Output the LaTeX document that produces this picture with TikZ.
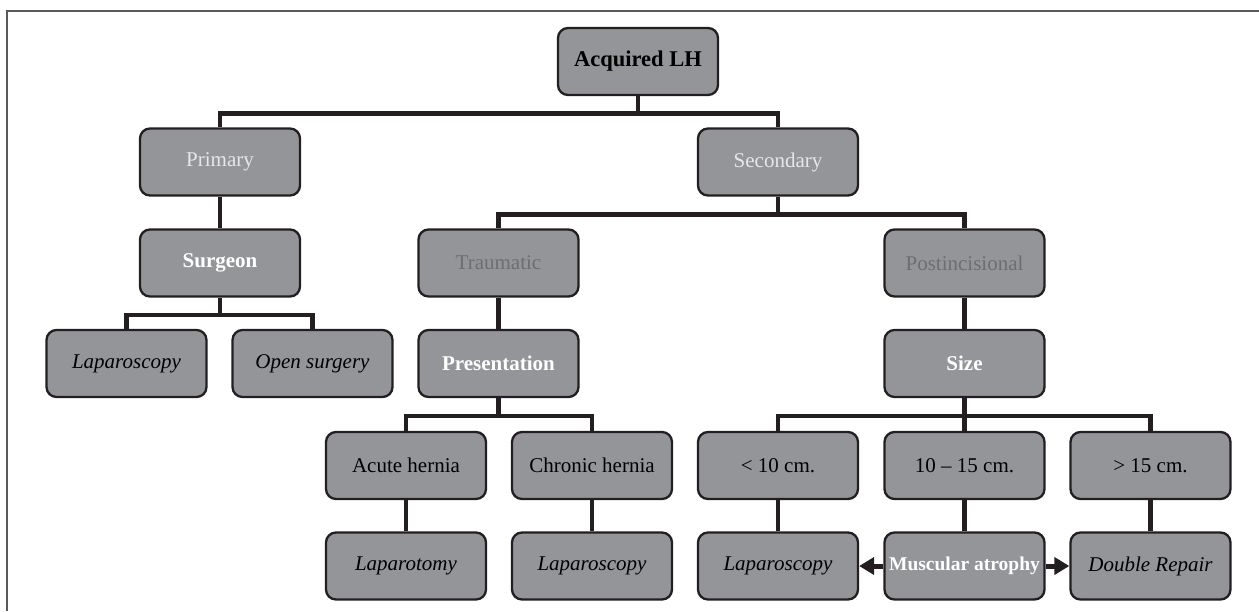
\documentclass[tikz,border=0pt]{standalone}
\usepackage{fontspec}
\setmainfont{Liberation Serif}
\usepackage{tikz}
\usetikzlibrary{arrows.meta}
\definecolor{boxgray}{HTML}{939598}
\definecolor{linedark}{HTML}{231F20}
\definecolor{lighttxt}{HTML}{E6E7E8}
\definecolor{dimtxt}{HTML}{6D6E71}
\definecolor{framegray}{HTML}{58595B}
\tikzstyle{box}=[
        draw=linedark,
        line width=2.3pt,
        fill=boxgray,
        rounded corners=10pt,
        minimum width=160pt,
        minimum height=67pt,
        inner sep=0pt,
        font=\fontsize{21}{25}\selectfont
]
\tikzstyle{conn}=[
        draw=linedark,
        line width=4.5pt
]
\tikzstyle{pointer}=[
        draw=linedark,
        line width=5pt,
        -{Triangle[length=15pt,width=17pt]}
]
\tikzstyle{frame}=[
        draw=framegray,
        line width=1.2pt
]

\begin{document}
\begin{tikzpicture}[x=1pt,y=-1pt]
                        \useasboundingbox (0,0) rectangle (1259,611);
                        \draw[frame] (7,611) -- (7,11) -- (1259,11);

                        \node[box, font=\fontsize{22.5}{26}\selectfont\bfseries] (acq) at (638,61.5) {Acquired LH};

                        \node[box, text=lighttxt] (pri) at (220,162) {Primary};
                        \node[box, text=lighttxt] (sec) at (778,162) {Secondary};

                        \node[box, text=white, font=\fontsize{21}{25}\selectfont\bfseries] (sur) at (220,263) {Surgeon};
                        \node[box, text=dimtxt] (tra) at (498.5,263) {Traumatic};
                        \node[box, text=dimtxt] (pst) at (964.5,263) {Postincisional};

                        \node[box, font=\fontsize{21}{25}\selectfont\itshape] (lapa) at (126.5,363.5) {Laparoscopy};
                        \node[box, font=\fontsize{21}{25}\selectfont\itshape] (opn) at (312.5,363.5) {Open surgery};
                        \node[box, text=white, font=\fontsize{21}{25}\selectfont\bfseries] (pres) at (498.5,363.5) {Presentation};
                        \node[box, text=white, font=\fontsize{21}{25}\selectfont\bfseries] (size) at (964.5,363.5) {Size};

                        \node[box] (acu) at (406,465.5) {Acute hernia};
                        \node[box] (chr) at (592,465.5) {Chronic hernia};
                        \node[box] (small) at (778,465.5) {< 10 cm.};
                        \node[box] (mid) at (964.5,465.5) {10 – 15 cm.};
                        \node[box] (large) at (1150.5,465.5) {> 15 cm.};

                        \node[box, font=\fontsize{21}{25}\selectfont\itshape] (lapt) at (406,566) {Laparotomy};
                        \node[box, font=\fontsize{21}{25}\selectfont\itshape] (lapb) at (592,566) {Laparoscopy};
                        \node[box, font=\fontsize{21}{25}\selectfont\itshape] (lapc) at (778,566) {Laparoscopy};
                        \node[box, text=white, font=\fontsize{19.5}{23}\selectfont\bfseries] (mus) at (964.5,566) {Muscular atrophy};
                        \node[box, font=\fontsize{21}{25}\selectfont\itshape] (dbl) at (1150.5,566) {Double Repair};

                        % top split
                        \draw[conn] (acq.south) -- ++(0,19);
                        \draw[conn] (pri.north) -- ++(0,-14) -| (sec.north);

                        % primary branch
                        \draw[conn] (pri) -- (sur);
                        \draw[conn] (sur.south) -- ++(0,19);
                        \draw[conn] (lapa.north) -- ++(0,-14) -| (opn.north);

                        % secondary branch
                        \draw[conn] (sec.south) -- ++(0,19);
                        \draw[conn] (tra.north) -- ++(0,-14) -| (pst.north);
                        \draw[conn] (tra) -- (pres);
                        \draw[conn] (pst) -- (size);

                        \draw[conn] (pres.south) -- ++(0,20);
                        \draw[conn] (acu.north) -- ++(0,-15) -| (chr.north);
                        \draw[conn] (acu) -- (lapt);
                        \draw[conn] (chr) -- (lapb);

                        \draw[conn] (size) -- (mid);
                        \draw[conn] (small.north) -- ++(0,-15) -| (large.north);
                        \draw[conn] (small) -- (lapc);
                        \draw[conn] (mid) -- (mus);
                        \draw[conn] (large) -- (dbl);

                        \draw[pointer] (mus) -- (lapc);
                        \draw[pointer] (mus) -- (dbl);

                    \end{tikzpicture}
\end{document}
